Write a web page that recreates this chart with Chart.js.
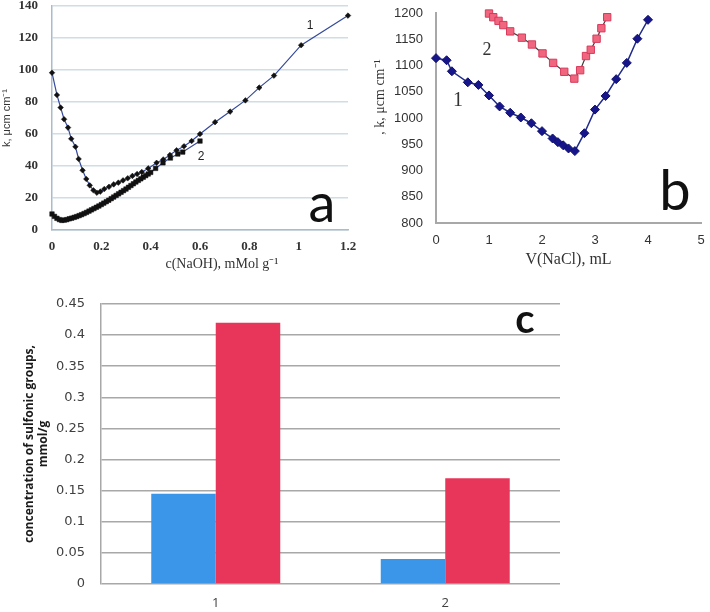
<!DOCTYPE html>
<html>
<head>
<meta charset="utf-8">
<title>Conductometric titration and sulfonic group content</title>
<script src="https://cdn.jsdelivr.net/npm/chart.js@4.4.1/dist/chart.umd.min.js"></script>
<style>
  html, body { margin: 0; padding: 0; background: #fff; }
  #wrap { position: relative; width: 710px; height: 612px; overflow: hidden; background: #fff; }
  canvas { position: absolute; }
  #chart-a { left: 0; top: 0; }
  #chart-b { left: 360px; top: 0; }
  #chart-c { left: 0; top: 270px; }
</style>
</head>
<body>
<div id="wrap">
  <canvas id="chart-a" width="360" height="275"></canvas>
  <canvas id="chart-b" width="350" height="275"></canvas>
  <canvas id="chart-c" width="710" height="342"></canvas>
</div>
<script>
// Panel a - conductivity k vs c(NaOH)
const aCurve1X = [0, 0.02, 0.035, 0.049, 0.065, 0.078, 0.095, 0.108, 0.124, 0.139, 0.153, 0.168, 0.182, 0.196, 0.212,
    0.231, 0.25, 0.269, 0.288, 0.307, 0.326, 0.345, 0.364, 0.39, 0.424, 0.451, 0.478, 0.505, 0.535, 0.566, 0.6,
    0.661, 0.722, 0.784, 0.84, 0.9, 1.01, 1.2];
const aCurve1Y = [98.3, 84.4, 76.5, 69.2, 64, 57, 52, 44.4, 37.3, 31.9, 27.9, 24.8, 23.3, 24, 25.6,
    27, 28.5, 29.6, 31, 32.3, 33.8, 35, 36.2, 38.5, 42, 44.1, 46.9, 49.8, 52.3, 55.6, 60,
    67.4, 74, 81, 89, 96.5, 115.5, 134];
const aCurve2X = [0, 0.01, 0.02, 0.03, 0.04, 0.05, 0.06, 0.07, 0.08, 0.09, 0.1, 0.11, 0.12, 0.13, 0.14, 0.15,
    0.16, 0.17, 0.18, 0.19, 0.2, 0.21, 0.22, 0.23, 0.24, 0.25, 0.26, 0.27, 0.28, 0.29, 0.3, 0.31, 0.32, 0.33,
    0.34, 0.35, 0.36, 0.37, 0.38, 0.39, 0.4, 0.42, 0.45, 0.48, 0.51, 0.53, 0.6];
const aCurve2Y = [10, 8.5, 7.3, 6.5, 6, 6.2, 6.5, 7, 7.4, 7.9, 8.4, 9, 9.6, 10.3, 11, 11.8,
    12.6, 13.4, 14.2, 15, 15.9, 16.8, 17.7, 18.6, 19.6, 20.6, 21.6, 22.6, 23.6, 24.6, 25.6, 26.7, 27.8, 28.9,
    30, 31, 32, 33, 34, 35, 36, 38.5, 42, 45, 47.5, 48.7, 55.6];

// Panel b - conductivity k vs V(NaCl)
const bCurve1X = [0, 0.2, 0.3, 0.6, 0.8, 1.0, 1.2, 1.4, 1.6, 1.8, 2.0, 2.2, 2.3, 2.4, 2.5, 2.62,
    2.8, 3.0, 3.2, 3.4, 3.6, 3.8, 4.0];
const bCurve1Y = [1114, 1110, 1089, 1068, 1063, 1043, 1022, 1010, 1001, 990, 975, 961, 954, 948, 942, 937,
    971, 1016, 1042, 1074, 1105, 1151, 1187];
const bCurve2X = [1.0, 1.08, 1.18, 1.27, 1.4, 1.62, 1.81, 2.01, 2.21, 2.42, 2.61, 2.72, 2.83, 2.92, 3.03, 3.12, 3.23];
const bCurve2Y = [1199, 1192, 1185, 1177, 1165, 1153, 1140, 1123, 1105, 1088, 1075, 1091, 1118, 1130, 1151, 1171, 1192];

// Panel c - concentration of sulfonic groups
const cCategories = ['1', '2'];
const cBlueValues = [0.145, 0.04];
const cRedValues = [0.42, 0.17];

const toPoints = (xs, ys) => xs.map((x, i) => ({ x: x, y: ys[i] }));

// pin an axis box to a fixed size and drop the label overflow padding
const fixSize = (prop, size) => s => {
    s[prop] = size;
    s.paddingTop = 0;
    s.paddingBottom = 0;
    s.paddingLeft = 0;
    s.paddingRight = 0;
};

// free text drawn on top of a chart (panel letters, curve numbers, odd axis titles)
const notesPlugin = {
    id: 'notes',
    afterDraw(chart, args, opts) {
        const ctx = chart.ctx;
        (opts.items || []).forEach(n => {
            ctx.save();
            ctx.font = n.font;
            ctx.fillStyle = n.color || '#000';
            ctx.textAlign = 'center';
            ctx.textBaseline = n.baseline || 'alphabetic';
            ctx.translate(n.x, n.y);
            if (n.rotate) ctx.rotate(n.rotate);
            ctx.fillText(n.text, 0, 0);
            ctx.restore();
        });
    }
};

const serif = '"Liberation Serif", "Times New Roman", serif';
const sans = '"Liberation Sans", Arial, sans-serif';

// ---- panel a
new Chart(document.getElementById('chart-a'), {
    type: 'scatter',
    data: {
        datasets: [{
            data: toPoints(aCurve2X, aCurve2Y),
            showLine: true,
            borderColor: '#3a4a9a',
            borderWidth: 1.2,
            pointStyle: 'rect',
            pointRadius: 3.2,
            pointBackgroundColor: '#111',
            pointBorderColor: '#111',
            pointBorderWidth: 0.5,
            clip: false
        }, {
            data: toPoints(aCurve1X, aCurve1Y),
            showLine: true,
            borderColor: '#34499b',
            borderWidth: 1.2,
            pointStyle: 'rectRot',
            pointRadius: 2.8,
            pointBackgroundColor: '#111',
            pointBorderColor: '#111',
            pointBorderWidth: 0.5,
            clip: false
        }]
    },
    options: {
        responsive: false,
        animation: false,
        layout: { padding: { top: 6, right: 12, left: 0, bottom: 0 } },
        plugins: {
            legend: { display: false },
            tooltip: { enabled: false },
            notes: {
                items: [
                    { text: '1', x: 310, y: 29, font: '12px ' + sans, color: '#222' },
                    { text: '2', x: 201, y: 160, font: '12px ' + sans, color: '#222' },
                    { text: 'a', x: 322, y: 222, font: '54px Lato, "Open Sans", sans-serif', color: '#111' },
                    { text: 'c(NaOH), mMol g\u207B\u00B9', x: 222, y: 268, font: '14px ' + serif, color: '#333' }
                ]
            }
        },
        scales: {
            x: {
                type: 'linear',
                min: 0,
                max: 1.2,
                afterFit: fixSize('height', 45),
                ticks: {
                    stepSize: 0.2,
                    padding: 9,
                    color: '#333',
                    font: { family: serif, size: 13, weight: 'bold' },
                    callback: v => String(+v.toFixed(1))
                },
                grid: { display: false, drawTicks: false },
                border: { color: '#a9bcc8', width: 1.5 }
            },
            y: {
                min: 0,
                max: 140,
                afterFit: fixSize('width', 52),
                ticks: {
                    stepSize: 20,
                    padding: 14,
                    color: '#333',
                    font: { family: serif, size: 13, weight: 'bold' },
                    callback: v => String(v)
                },
                grid: { color: '#cfdde4', lineWidth: 1.5, drawTicks: false },
                border: { color: '#a9bcc8', width: 1.5 },
                title: {
                    display: true,
                    text: 'k, \u03BCcm cm\u207B\u00B9',
                    color: '#333',
                    font: { family: sans, size: 11 },
                    padding: { top: 0, bottom: 0 }
                }
            }
        }
    },
    plugins: [notesPlugin]
});

// ---- panel b
new Chart(document.getElementById('chart-b'), {
    type: 'scatter',
    data: {
        datasets: [{
            data: toPoints(bCurve1X, bCurve1Y),
            showLine: true,
            borderColor: '#1f2a8a',
            borderWidth: 1.5,
            pointStyle: 'rectRot',
            pointRadius: 4.5,
            pointBackgroundColor: '#16168a',
            pointBorderColor: '#10106e',
            pointBorderWidth: 1,
            clip: false
        }, {
            data: toPoints(bCurve2X, bCurve2Y),
            showLine: true,
            borderColor: '#3a3a3a',
            borderWidth: 1.2,
            pointStyle: 'rect',
            pointRadius: 5.2,
            pointBackgroundColor: '#f0667f',
            pointBorderColor: '#d83a5c',
            pointBorderWidth: 1,
            clip: false
        }]
    },
    options: {
        responsive: false,
        animation: false,
        layout: { padding: { top: 13, right: 9, left: 0, bottom: 0 } },
        plugins: {
            legend: { display: false },
            tooltip: { enabled: false },
            notes: {
                items: [
                    { text: '2', x: 127, y: 55, font: '18px ' + serif, color: '#333' },
                    { text: '1', x: 98, y: 106, font: '20px ' + serif, color: '#333' },
                    { text: 'b', x: 315, y: 210, font: '56px Lato, "Open Sans", sans-serif', color: '#111' },
                    { text: ', k, \u03BCcm cm\u207B\u00B9', x: 20, y: 97, rotate: -Math.PI / 2,
                      baseline: 'middle', font: '14px ' + serif, color: '#333' }
                ]
            }
        },
        scales: {
            x: {
                type: 'linear',
                min: 0,
                max: 5,
                afterFit: fixSize('height', 52),
                ticks: {
                    stepSize: 1,
                    padding: 10,
                    color: '#333',
                    font: { family: sans, size: 13 },
                    callback: v => String(v)
                },
                grid: { display: false, drawTicks: false },
                border: { color: '#a8a8a8', width: 2 },
                title: {
                    display: true,
                    text: 'V(NaCl), mL',
                    color: '#333',
                    font: { family: serif, size: 16 },
                    padding: { top: 0, bottom: 6 }
                }
            },
            y: {
                min: 800,
                max: 1200,
                afterFit: fixSize('width', 76),
                ticks: {
                    stepSize: 50,
                    padding: 13,
                    color: '#333',
                    font: { family: sans, size: 13 },
                    callback: v => String(v)
                },
                grid: { display: false, drawTicks: false },
                border: { color: '#a8a8a8', width: 2 }
            }
        }
    },
    plugins: [notesPlugin]
});

// ---- panel c
new Chart(document.getElementById('chart-c'), {
    type: 'bar',
    data: {
        labels: cCategories,
        datasets: [{
            data: cBlueValues,
            backgroundColor: '#3b95e8',
            borderWidth: 0
        }, {
            data: cRedValues,
            backgroundColor: '#e8355a',
            borderWidth: 0
        }]
    },
    options: {
        responsive: false,
        animation: false,
        layout: { padding: { top: 34, right: 150, left: 0, bottom: 0 } },
        datasets: { bar: { categoryPercentage: 0.562, barPercentage: 1 } },
        plugins: {
            legend: { display: false },
            tooltip: { enabled: false },
            notes: {
                items: [
                    { text: 'c', x: 525, y: 63, font: 'bold 40px Lato, "Open Sans", sans-serif', color: '#111' }
                ]
            }
        },
        scales: {
            x: {
                afterFit: fixSize('height', 28),
                ticks: {
                    padding: 11,
                    color: '#404040',
                    font: { family: '"Open Sans", sans-serif', size: 13 }
                },
                grid: { display: false, drawTicks: false },
                border: { display: false }
            },
            y: {
                min: 0,
                max: 0.45,
                afterFit: fixSize('width', 101),
                ticks: {
                    stepSize: 0.05,
                    padding: 16,
                    color: '#404040',
                    font: { family: '"DejaVu Sans", sans-serif', size: 13 },
                    callback: v => String(+v.toFixed(2))
                },
                grid: { color: '#a8a8a8', lineWidth: 1.5, drawTicks: false },
                border: { color: '#a8a8a8', width: 1.5 },
                title: {
                    display: true,
                    text: ['concentration of sulfonic groups,', 'mmol/g'],
                    color: '#1a1a1a',
                    font: { family: '"Open Sans", sans-serif', size: 12, weight: 'bold', lineHeight: 1.15 },
                    padding: { top: 23, bottom: 0 }
                }
            }
        }
    },
    plugins: [notesPlugin]
});
</script>
</body>
</html>
